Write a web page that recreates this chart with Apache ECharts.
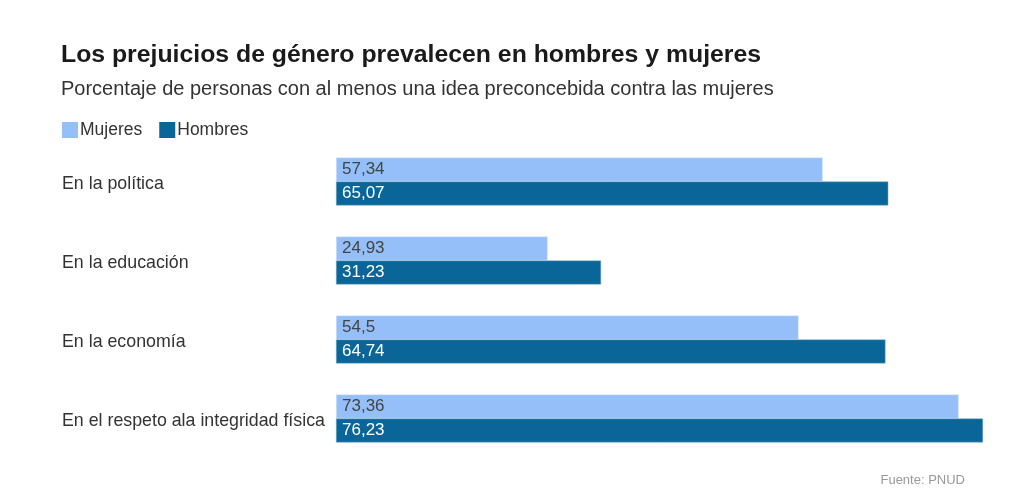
<!DOCTYPE html>
<html>
<head>
<meta charset="utf-8">
<script src="https://cdn.jsdelivr.net/npm/echarts@6/dist/echarts.min.js"></script>
<style>
html,body{margin:0;padding:0;background:#fff;}
#chart{width:1024px;height:503px;}
</style>
</head>
<body>
<div id="chart"></div>
<script>
const categories = ['En la política', 'En la educación', 'En la economía', 'En el respeto ala integridad física'];
const mujeres = [57.34, 24.93, 54.5, 73.36];
const hombres = [65.07, 31.23, 64.74, 76.23];
const seriesNames = ['Mujeres', 'Hombres'];
const titleText = 'Los prejuicios de género prevalecen en hombres y mujeres';
const subtitleText = 'Porcentaje de personas con al menos una idea preconcebida contra las mujeres';
const sourceText = 'Fuente: PNUD';

const FONT = '"Liberation Sans", Arial, sans-serif';
const fmt = p => String(p.value).replace('.', ',');

const chart = echarts.init(document.getElementById('chart'));
chart.setOption({
  backgroundColor: '#fff',
  animation: false,
  textStyle: { fontFamily: FONT },
  title: {
    text: titleText,
    subtext: subtitleText,
    left: 56,
    top: 38,
    itemGap: 11,
    textStyle: { fontFamily: FONT, fontSize: 24.8, fontWeight: 'bold', color: '#1a1a1a' },
    subtextStyle: { fontFamily: FONT, fontSize: 20, color: '#333' }
  },
  legend: {
    data: seriesNames,
    left: 57,
    top: 116,
    itemWidth: 16,
    itemHeight: 16,
    itemGap: 17,
    icon: 'rect',
    itemStyle: { borderWidth: 0 },
    textStyle: { fontFamily: FONT, fontSize: 17.5, color: '#333', padding: [0, 0, 0, -3] }
  },
  grid: { left: 336, right: 41, top: 142, bottom: 45, containLabel: false },
  xAxis: {
    type: 'value',
    min: 0,
    max: 'dataMax',
    show: false
  },
  yAxis: {
    type: 'category',
    data: categories,
    inverse: true,
    axisLine: { show: false },
    axisTick: { show: false },
    axisLabel: {
      align: 'left',
      margin: 274,
      formatter: v => '{a|' + v + '}',
      rich: {
        a: { fontFamily: FONT, fontSize: 17.8, color: '#333', padding: [6, 0, 0, 0] }
      }
    }
  },
  series: [
    {
      name: seriesNames[0],
      type: 'bar',
      data: mujeres,
      barWidth: 24,
      barGap: '0%',
      itemStyle: { color: '#94bff8', borderColor: '#dbe9fb', borderWidth: 0.5 },
      label: { show: true, position: 'insideLeft', distance: 6, formatter: fmt, fontFamily: FONT, fontSize: 17, color: '#444' }
    },
    {
      name: seriesNames[1],
      type: 'bar',
      data: hombres,
      barWidth: 24,
      barGap: '0%',
      itemStyle: { color: '#0a6699', borderColor: '#7fb0cc', borderWidth: 0.5 },
      label: { show: true, position: 'insideLeft', distance: 6, formatter: fmt, fontFamily: FONT, fontSize: 17, color: '#fff' }
    }
  ],
  graphic: [
    {
      type: 'text',
      right: 59,
      top: 474,
      style: { text: sourceText, fontFamily: FONT, fontSize: 13, fill: '#999' }
    }
  ]
});
</script>
</body>
</html>
